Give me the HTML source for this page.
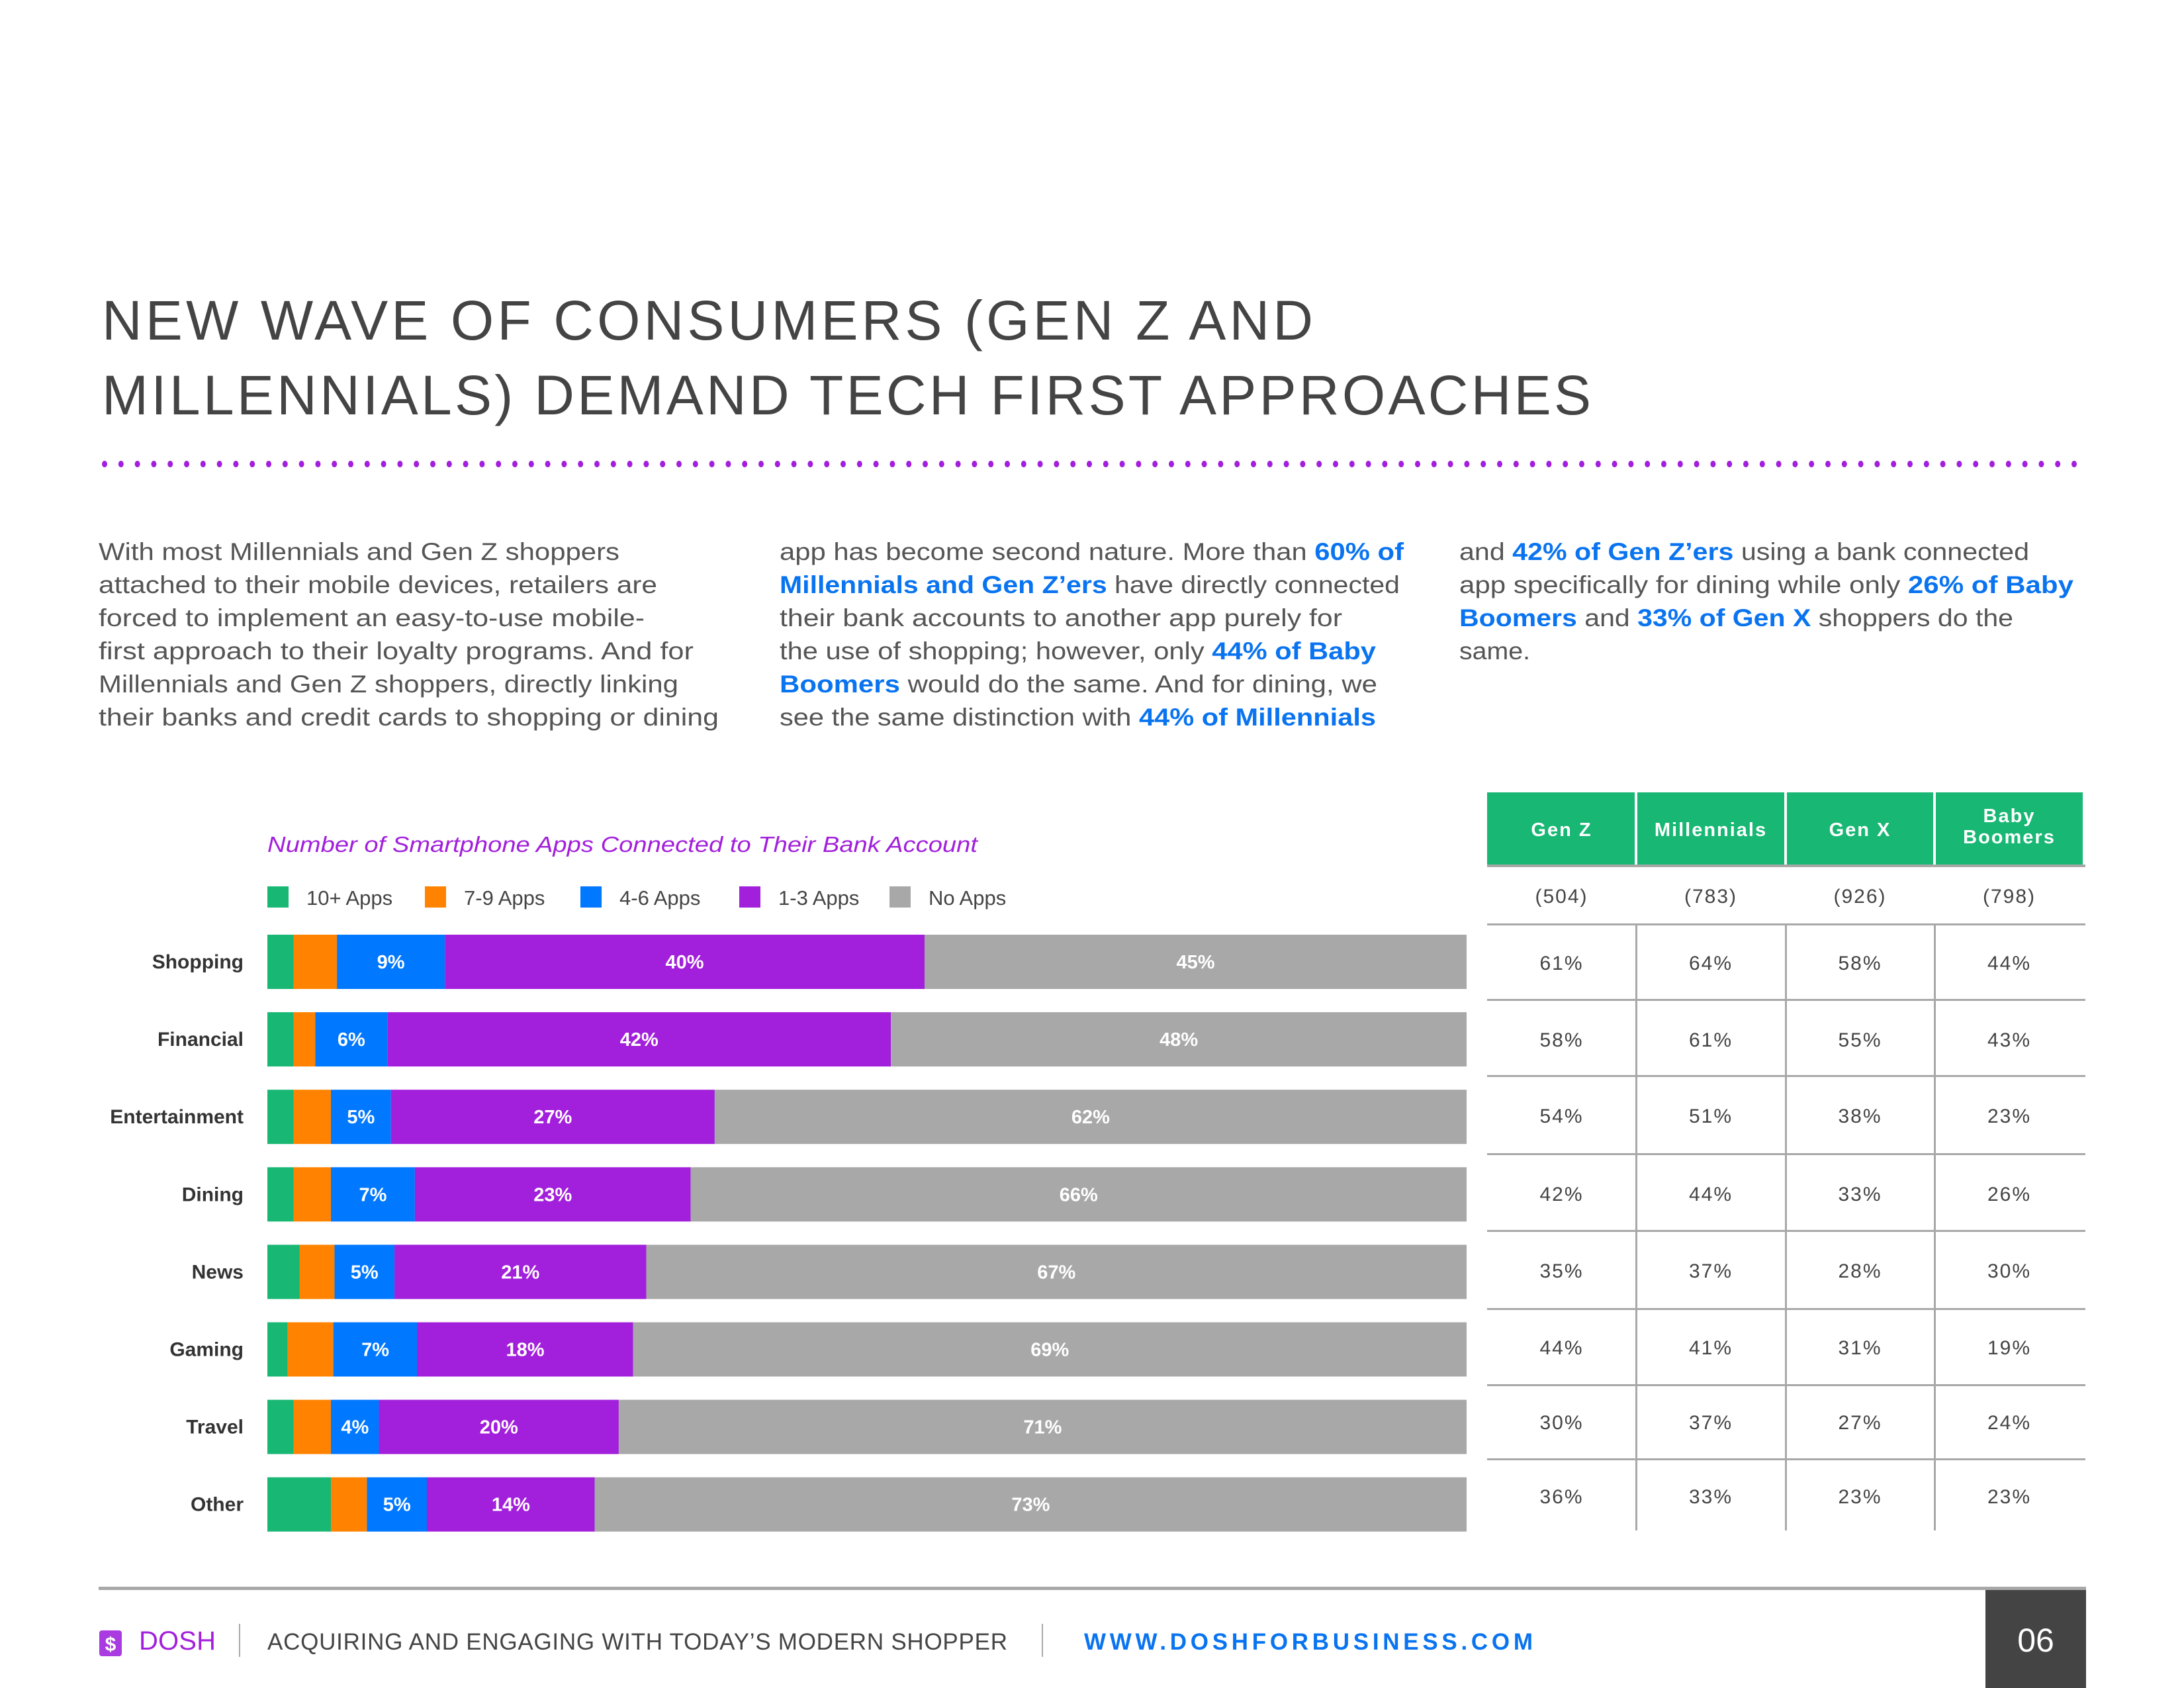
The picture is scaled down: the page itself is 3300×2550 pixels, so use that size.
<!DOCTYPE html>
<html><head><meta charset="utf-8"><style>
html,body{margin:0;padding:0;background:#fff;}
svg{display:block;}
text{font-family:"Liberation Sans",sans-serif;}
.body{font-size:37px;fill:#555;}
.hl{fill:#0A74F0;font-weight:bold;}
</style></head><body>
<svg id="page" width="3300" height="2550" viewBox="0 0 3300 2550" xmlns="http://www.w3.org/2000/svg">
<g fill="#444" font-size="84">
<text x="154" y="513" textLength="1830" lengthAdjust="spacing">NEW WAVE OF CONSUMERS (GEN Z AND</text>
<text x="154" y="626" textLength="2250" lengthAdjust="spacing">MILLENNIALS) DEMAND TECH FIRST APPROACHES</text>
</g>
<g id="dots" fill="#A21FDB"></g>

<g class="body">
<text x="149" y="846" textLength="787" lengthAdjust="spacingAndGlyphs">With most Millennials and Gen Z shoppers</text>
<text x="149" y="896" textLength="844" lengthAdjust="spacingAndGlyphs">attached to their mobile devices, retailers are</text>
<text x="149" y="946" textLength="825" lengthAdjust="spacingAndGlyphs">forced to implement an easy-to-use mobile-</text>
<text x="149" y="996" textLength="899" lengthAdjust="spacingAndGlyphs">first approach to their loyalty programs. And for</text>
<text x="149" y="1046" textLength="876" lengthAdjust="spacingAndGlyphs">Millennials and Gen Z shoppers, directly linking</text>
<text x="149" y="1096" textLength="937" lengthAdjust="spacingAndGlyphs">their banks and credit cards to shopping or dining</text>
</g>
<g class="body">
<text x="1178" y="846" textLength="943" lengthAdjust="spacingAndGlyphs">app has become second nature. More than <tspan class="hl">60% of</tspan></text>
<text x="1178" y="896" textLength="937" lengthAdjust="spacingAndGlyphs"><tspan class="hl">Millennials and Gen Z’ers</tspan> have directly connected</text>
<text x="1178" y="946" textLength="850" lengthAdjust="spacingAndGlyphs">their bank accounts to another app purely for</text>
<text x="1178" y="996" textLength="901" lengthAdjust="spacingAndGlyphs">the use of shopping; however, only <tspan class="hl">44% of Baby</tspan></text>
<text x="1178" y="1046" textLength="903" lengthAdjust="spacingAndGlyphs"><tspan class="hl">Boomers</tspan> would do the same. And for dining, we</text>
<text x="1178" y="1096" textLength="901" lengthAdjust="spacingAndGlyphs">see the same distinction with <tspan class="hl">44% of Millennials</tspan></text>
</g>
<g class="body">
<text x="2205" y="846" textLength="861" lengthAdjust="spacingAndGlyphs">and <tspan class="hl">42% of Gen Z’ers</tspan> using a bank connected</text>
<text x="2205" y="896" textLength="928" lengthAdjust="spacingAndGlyphs">app specifically for dining while only <tspan class="hl">26% of Baby</tspan></text>
<text x="2205" y="946" textLength="837" lengthAdjust="spacingAndGlyphs"><tspan class="hl">Boomers</tspan> and <tspan class="hl">33% of Gen X</tspan> shoppers do the</text>
<text x="2205" y="996" textLength="107" lengthAdjust="spacingAndGlyphs">same.</text>
</g>

<text x="404" y="1287" font-size="33" font-style="italic" fill="#A21FDB" textLength="1073" lengthAdjust="spacingAndGlyphs">Number of Smartphone Apps Connected to Their Bank Account</text>
<g id="legend"></g>
<g id="bars"></g>
<g id="table"></g>

<g>
<rect x="149" y="2397" width="3003" height="5" fill="#A8A8A8"/>
<rect x="3000" y="2402" width="152" height="148" fill="#444"/>
<text x="3076" y="2495" font-size="50" fill="#fff" text-anchor="middle">06</text>
<rect x="150" y="2463" width="34" height="39" rx="4" fill="#A93BE0"/>
<text x="167" y="2494" font-size="30" fill="#fff" text-anchor="middle" font-weight="bold">$</text>
<text x="210" y="2492" font-size="40" fill="#A21FDB" textLength="116" lengthAdjust="spacing">DOSH</text>
<rect x="361" y="2453" width="2" height="50" fill="#aaa"/>
<text x="404" y="2492" font-size="35" fill="#444" textLength="1118" lengthAdjust="spacing">ACQUIRING AND ENGAGING WITH TODAY’S MODERN SHOPPER</text>
<rect x="1574" y="2453" width="2" height="50" fill="#aaa"/>
<text x="1638" y="2492" font-size="35" font-weight="bold" fill="#0A74F0" textLength="678" lengthAdjust="spacing">WWW.DOSHFORBUSINESS.COM</text>
</g>
</svg>
<script>
const categories = ["Shopping","Financial","Entertainment","Dining","News","Gaming","Travel","Other"];
const apps10 = [2.2,2.2,2.2,2.2,2.7,1.7,2.2,5.3];
const apps7 = [3.6,1.8,3.1,3.1,2.9,3.8,3.1,3];
const apps4 = [9,6,5,7,5,7,4,5];
const apps1 = [40,42,27,23,21,18,20,14];
const appsNone = [45,48,62,66,67,69,71,73];
const seriesNames = ["10+ Apps","7-9 Apps","4-6 Apps","1-3 Apps","No Apps"];
const genHeaders = ["Gen Z","Millennials","Gen X","Baby Boomers"];
const genCounts = ["(504)","(783)","(926)","(798)"];
const genZ = [61,58,54,42,35,44,30,36];
const millennials = [64,61,51,44,37,41,37,33];
const genX = [58,55,38,33,28,31,27,23];
const boomers = [44,43,23,26,30,19,24,23];

const NS="http://www.w3.org/2000/svg";
function mk(tag,attrs,parent){const e=document.createElementNS(NS,tag);for(const k in attrs)e.setAttribute(k,attrs[k]);parent.appendChild(e);return e;}
const colors=["#18B774","#FF8300","#0078FF","#A21FDB","#A8A8A8"];

const dots=document.getElementById('dots');
for(let x=158;x<=3150;x+=24.8){const d=mk('ellipse',{cx:x.toFixed(1),cy:701,rx:4,ry:5},dots);

}

const lg=document.getElementById('legend');
const legX=[404,642,877,1117,1344];
seriesNames.forEach((n,i)=>{
  const r=mk('rect',{x:legX[i],y:1339,width:32,height:32,fill:colors[i]},lg);
  
  
  const t=mk('text',{x:legX[i]+59,y:1367,'font-size':31,fill:'#444'},lg);
  
  
  t.textContent=n;
});

const g=document.getElementById('bars');
const x0=404,x1=2216,rowTop0=1412,rowStep=117.1,barH=82;
const xs=v=>x0+(x1-x0)*v/100;
const series=[apps10,apps7,apps4,apps1,appsNone];
categories.forEach((c,i)=>{
  const y=rowTop0+i*rowStep;
  const lab=mk('text',{x:368,y:y+barH/2+10,'font-size':30,'font-weight':'bold',fill:'#333','text-anchor':'end'},g);
  
  
  lab.textContent=c;
  let cum=0;
  series.forEach((s,j)=>{
    const v=s[i];const a=xs(cum);let b=xs(cum+v);cum+=v;
    if(j===4) b=x1;
    const r=mk('rect',{x:a,y:y,width:Math.max(0,b-a),height:barH,fill:colors[j]},g);
    
    
    if(j>=2){
      const t=mk('text',{x:(a+b)/2,y:y+barH/2+10,'font-size':29,'font-weight':'bold',fill:'#fff','text-anchor':'middle'},g);
      
      
      t.textContent=v+'%';
    }
  });
});

const tb=document.getElementById('table');
const colX=[2247,2472,2698,2923,3149];
const cols=[genZ,millennials,genX,boomers];
genHeaders.forEach((h,i)=>{
  const r=mk('rect',{x:colX[i]+(i?2:0),y:1197,width:colX[i+1]-colX[i]-(i?2:0)-2,height:109,fill:'#18B774'},tb);
  
  
  const cx=(colX[i]+colX[i+1])/2;
  const parts=h==="Baby Boomers"?["Baby","Boomers"]:[h];
  parts.forEach((p,k)=>{
    const t=mk('text',{x:cx,y:(parts.length>1?1242+k*32:1263),'font-size':29,'font-weight':'bold',fill:'#fff','text-anchor':'middle','letter-spacing':'2'},tb);
    
    
    t.textContent=p;
  });
  const c=mk('text',{x:cx,y:1364,'font-size':30,fill:'#444','text-anchor':'middle','letter-spacing':'2'},tb);
  
  
  c.textContent=genCounts[i];
});
mk('rect',{x:2247,y:1306,width:904,height:4,fill:'#A8A8A8'},tb);
const lineY=[1395,1509,1624,1742,1858,1976,2091,2203];
lineY.forEach(y=>{const l=mk('rect',{x:2247,y:y,width:904,height:3,fill:'#A8A8A8'},tb);

});
[1,2,3].forEach(i=>{const l=mk('rect',{x:colX[i]-1,y:1395,width:3,height:917,fill:'#A8A8A8'},tb);

});
const valY=[1454,1570,1685,1803,1919,2035,2148,2260];
cols.forEach((col,i)=>{
  const cx=(colX[i]+colX[i+1])/2;
  col.forEach((v,r)=>{
    const t=mk('text',{x:cx,y:valY[r]+11,'font-size':30,fill:'#444','text-anchor':'middle','letter-spacing':'2'},tb);
    
    
    t.textContent=v+'%';
  });
});
</script>
</body></html>
